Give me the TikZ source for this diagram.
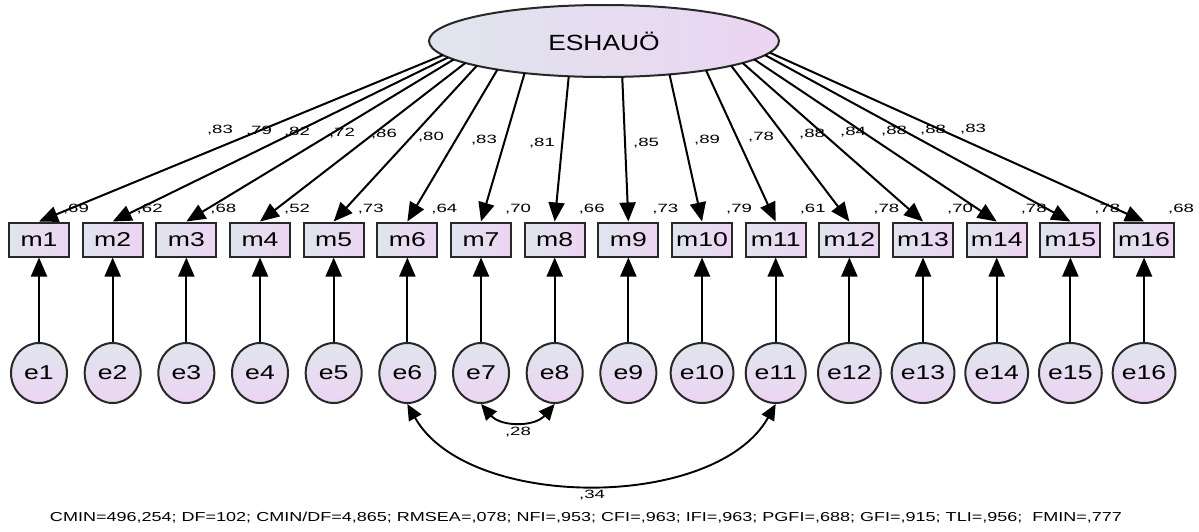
\documentclass[tikz,border=0pt]{standalone}
\usepackage{fontspec}
\setmainfont{Liberation Sans}
\usetikzlibrary{shapes.geometric,arrows.meta}
\definecolor{shL}{RGB}{224,229,238}
\definecolor{shR}{RGB}{236,212,242}
\definecolor{bordc}{RGB}{40,40,40}
\newcommand\xstr[2]{\scalebox{#1}[1]{#2}}
\begin{document}
\begin{tikzpicture}[x=1pt,y=-1pt,
  obs/.style={draw=bordc,line width=2pt,left color=shL,right color=shR,minimum width=60pt,minimum height=34pt,inner sep=0pt,font=\fontsize{20}{20}\selectfont},
  err/.style={ellipse,draw=bordc,line width=2pt,top color=shL,bottom color=shR,minimum width=56pt,minimum height=60pt,inner sep=0pt,font=\fontsize{20}{20}\selectfont},
  lat/.style={ellipse,draw=bordc,line width=2pt,left color=shL,right color=shR,minimum width=350pt,minimum height=72pt,inner sep=0pt,outer sep=0pt,font=\fontsize{22}{22}\selectfont},
  lbl/.style={font=\fontsize{12}{12}\selectfont,inner sep=0pt},
  arr/.style={line width=2pt,-{Triangle[length=19pt,width=16pt]}},
  cov/.style={line width=1.9pt,{Triangle[length=16pt,width=14pt]}-{Triangle[length=16pt,width=14pt]}}]
\useasboundingbox (0,0) rectangle (1199,531);
\fill[white] (0,0) rectangle (1199,531);
\node[lat] (E) at (604,41) {\xstr{1.2}{ESHAUÖ}};
\foreach \i in {1,...,16} {
  \pgfmathsetmacro\xx{39+(\i-1)*73.67}
  \node[obs] (m\i) at (\xx,239.5) {\xstr{1.33}{m\i}};
  \node[err] (e\i) at (\xx,373) {\xstr{1.33}{e\i}};
}
% squared multiple correlations
\foreach \i/\v in {1/69,2/62,3/68,4/52,5/73,6/64,7/70,8/66,9/73,10/79,11/61,12/78,13/70,14/78,15/78,16/68}
  \node[lbl] (r\i) at ([xshift=37pt,yshift=12pt]m\i.north) {\xstr{1.55}{,\v}};
% loadings
\foreach \i/\lx/\ly/\v in {1/220/130/83,2/259/131/79,3/297/132/82,4/342/133/72,5/384/134/86,6/431/137/80,7/484/140/83,8/542/143/81,9/646/143/85,10/707/140/89,11/761/137/78,12/812/134/88,13/853/132/84,14/894/131/88,15/933/130/88,16/973/129/83}
  \node[lbl] (l\i) at (\lx,\ly) {\xstr{1.55}{,\v}};
% regression paths
\foreach \i/\dx in {1/-164,2/-159,3/-151,4/-141,5/-129,6/-111,7/-80,8/-36,9/18,10/64,11/101,12/124,13/138,14/148,15/156,16/163} {
  \pgfmathsetmacro\hh{36*sqrt(1-(\dx/175)^2)}
  \pgfmathsetmacro\ang{atan2(-\hh,\dx)}
  \draw[arr] (E.\ang) -- (m\i.north);
  \draw[arr] (e\i) -- (m\i);
}
\draw[cov] (e7.south) .. controls +(20,23) and +(-20,23) .. (e8.south);
\draw[cov] (e6.south) .. controls +(60,107) and +(-60,107) .. (e11.south);
\node[lbl] (c78) at (518,432) {\xstr{1.55}{,28}};
\node[lbl] (c611) at (592,495) {\xstr{1.55}{,34}};
\node[inner sep=0pt] (fit) at (586,518) {\resizebox{1072pt}{\height}{\fontsize{13}{13}\selectfont CMIN=496,254; DF=102; CMIN/DF=4,865; RMSEA=,078; NFI=,953; CFI=,963; IFI=,963; PGFI=,688; GFI=,915; TLI=,956;\ \ FMIN=,777}};
\end{tikzpicture}
\end{document}
